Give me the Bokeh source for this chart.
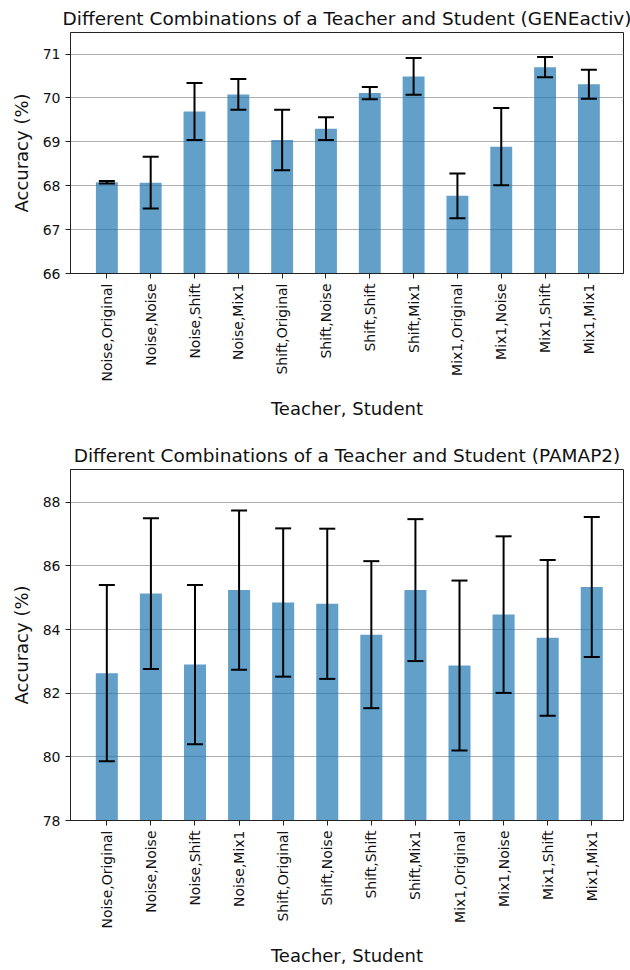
import math
from bokeh.plotting import figure
from bokeh.layouts import column
from bokeh.models import ColumnDataSource, Whisker, Range1d, FixedTicker, TeeHead
from bokeh.embed import file_html
from bokeh.resources import INLINE

categories = ["Noise,Original", "Noise,Noise", "Noise,Shift", "Noise,Mix1",
              "Shift,Original", "Shift,Noise", "Shift,Shift", "Shift,Mix1",
              "Mix1,Original", "Mix1,Noise", "Mix1,Shift", "Mix1,Mix1"]

gene_mean = [68.08, 68.07, 69.69, 70.08, 69.04, 69.30, 70.11, 70.49, 67.77, 68.89, 70.70, 70.31]
gene_err = [0.03, 0.59, 0.65, 0.35, 0.69, 0.26, 0.14, 0.42, 0.51, 0.88, 0.23, 0.33]

pamap_mean = [82.63, 85.13, 82.90, 85.24, 84.85, 84.81, 83.84, 85.24, 82.87, 84.47, 83.74, 85.34]
pamap_err = [2.77, 2.37, 2.50, 2.50, 2.33, 2.36, 2.31, 2.23, 2.67, 2.46, 2.45, 2.20]

gene_ticks = [66, 67, 68, 69, 70, 71]
pamap_ticks = [78, 80, 82, 84, 86, 88]

FONT = "DejaVu Sans"
BAR_COLOR = "#1f77b4"


def make_plot(title, means, errs, yr, yticks, xr, width, height, bt, bb, br):
    x = list(range(len(categories)))
    src = ColumnDataSource(dict(
        x=x, top=means,
        upper=[m + e for m, e in zip(means, errs)],
        lower=[m - e for m, e in zip(means, errs)],
    ))
    p = figure(width=width, height=height, output_backend="svg", toolbar_location=None,
               x_range=Range1d(*xr), y_range=Range1d(*yr),
               min_border_left=70, min_border_right=br,
               min_border_top=bt, min_border_bottom=bb)
    p.vbar(x="x", top="top", bottom=yr[0], width=0.5, source=src,
           fill_color=BAR_COLOR, fill_alpha=0.7, line_color=BAR_COLOR, line_alpha=0.0)
    w = Whisker(base="x", upper="upper", lower="lower", source=src,
                line_color="black", line_width=2, level="overlay",
                upper_head=TeeHead(size=16, line_color="black", line_width=2),
                lower_head=TeeHead(size=16, line_color="black", line_width=2))
    p.add_layout(w)

    p.title.text = title
    p.title.align = "center"
    p.title.text_font = FONT
    p.title.text_font_size = "18.5px"
    p.title.text_font_style = "normal"
    p.title.text_color = "#111111"
    p.title.standoff = 7

    p.xaxis.ticker = FixedTicker(ticks=x)
    p.xaxis.major_label_overrides = {i: c for i, c in enumerate(categories)}
    p.xaxis.major_label_orientation = math.pi / 2
    p.yaxis.ticker = FixedTicker(ticks=yticks)

    p.xaxis.axis_label = "Teacher, Student"
    p.yaxis.axis_label = "Accuracy (%)"
    for ax in (p.xaxis, p.yaxis):
        ax.axis_label_text_font = FONT
        ax.axis_label_text_font_size = "18px"
        ax.axis_label_text_font_style = "normal"
        ax.axis_label_text_color = "#111111"
        ax.major_label_text_font = FONT
        ax.major_label_text_font_size = "14px"
        ax.major_label_text_color = "#111111"
        ax.axis_line_color = "#222222"
        ax.major_tick_line_color = "#222222"
        ax.major_tick_out = 5
        ax.major_tick_in = 0
        ax.minor_tick_line_color = None
    p.xaxis.axis_label_standoff = 13
    p.yaxis.axis_label_standoff = 8

    p.xgrid.grid_line_color = None
    p.ygrid.grid_line_color = "#b0b0b0"
    p.ygrid.grid_line_width = 1.2
    p.outline_line_color = "#222222"
    p.outline_line_width = 1
    p.outline_line_alpha = 1.0
    p.background_fill_color = "white"
    return p


p1 = make_plot("Different Combinations of a Teacher and Student (GENEactiv)",
               gene_mean, gene_err, (66, 71.49), gene_ticks, (-0.83, 11.79),
               630, 435, 32, 162, 7)
p2 = make_plot("Different Combinations of a Teacher and Student (PAMAP2)",
               pamap_mean, pamap_err, (78, 89.03), pamap_ticks, (-0.824, 11.72),
               630, 533, 34, 145, 0)

layout = column(p1, p2, spacing=0)
open("out.html", "w").write(file_html(layout, INLINE))
